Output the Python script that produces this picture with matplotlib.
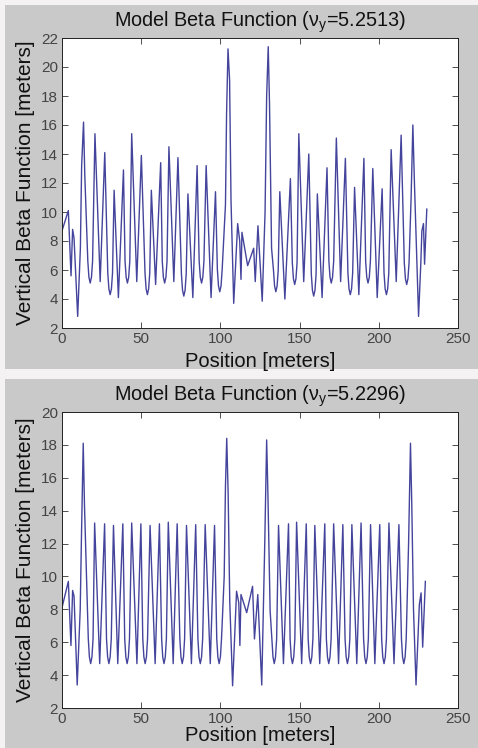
import matplotlib
matplotlib.use("Agg")
import matplotlib.pyplot as plt
from matplotlib.patches import Rectangle

plt.rcParams['font.family'] = ['Liberation Sans', 'DejaVu Sans']
plt.rcParams['mathtext.fontset'] = 'custom'
plt.rcParams['mathtext.rm'] = 'Liberation Sans'
plt.rcParams['mathtext.it'] = 'Liberation Sans'

# vertical beta function, tune 5.2513 (position [m], beta [m])
s_top = [0.0, 4.0, 5.7, 6.7, 7.6, 9.9, 11.6, 12.4, 13.6, 14.4,
         16.3, 17.0, 17.8, 18.6, 19.3, 20.8,
         24.1, 27.0,
         28.9, 29.6, 30.4, 31.2, 31.9, 32.9,
         35.6, 38.8,
         39.8, 40.5, 41.3, 42.1, 42.8, 44.0,
         47.2, 50.1,
         52.4, 53.1, 53.9, 54.7, 55.4, 56.4,
         59.1, 62.3,
         63.3, 64.0, 64.8, 65.6, 66.3, 67.5,
         70.6, 73.2,
         75.4, 76.1, 76.9, 77.7, 78.4, 79.5,
         82.6, 85.3,
         86.6, 87.3, 88.1, 88.9, 89.6, 91.0,
         94.1, 96.9,
         98.1, 98.8, 99.6, 100.4, 101.1,
         103.2, 103.9, 104.8, 105.8, 106.7, 108.4,
         110.9, 112.2, 113.0, 113.6, 117.2, 121.0, 122.0, 123.7, 126.4,
         128.2, 129.2, 130.2, 131.0, 132.3,
         133.5, 134.2, 135.0, 135.8, 136.5, 137.5,
         140.7, 144.2,
         145.4, 146.1, 146.9, 147.7, 148.4, 149.5,
         152.6, 155.8,
         157.4, 158.1, 158.9, 159.7, 160.4, 161.2,
         164.2, 167.3,
         168.5, 169.2, 170.0, 170.8, 171.5, 173.2,
         175.9, 178.9,
         180.5, 181.2, 182.0, 182.8, 183.5, 184.7,
         187.4, 190.6,
         191.7, 192.4, 193.2, 194.0, 194.7, 196.2,
         199.0, 202.1,
         203.3, 204.0, 204.8, 205.6, 206.3, 207.8,
         211.0, 214.1,
         216.1, 216.8, 217.6, 218.4, 219.1,
         220.4, 221.5, 222.5, 225.1, 226.5, 227.2, 228.2, 228.9, 230.3]
beta_top = [8.7, 10.1, 5.6, 8.8, 8.2, 2.8, 7.5, 13.2, 16.2, 12.5,
            6.6, 5.5, 5.1, 5.5, 6.6, 15.4,
            5.2, 14.1,
            5.8, 4.7, 4.3, 4.7, 5.8, 11.5,
            4.1, 12.9,
            6.6, 5.5, 5.1, 5.5, 6.6, 15.4,
            5.2, 13.9,
            5.8, 4.7, 4.3, 4.7, 5.8, 11.5,
            5.0, 13.4,
            6.6, 5.5, 5.1, 5.5, 6.6, 14.5,
            5.2, 13.75,
            5.7, 4.6, 4.2, 4.6, 5.7, 11.25,
            4.1, 13.2,
            6.6, 5.5, 5.1, 5.5, 6.6, 13.2,
            4.1, 11.4,
            6.0, 4.9, 4.5, 4.9, 6.0,
            10.5, 16.8, 21.25, 19.1, 10.8, 3.7,
            9.2, 8.0, 5.35, 8.6, 6.3, 7.5, 5.2, 9.05, 3.85,
            10.0, 18.0, 21.4, 17.5, 7.5,
            6.0, 4.9, 4.5, 4.9, 6.0, 11.4,
            4.0, 12.3,
            6.5, 5.4, 5.0, 5.4, 6.5, 15.4,
            5.2, 14.0,
            5.7, 4.6, 4.2, 4.6, 5.7, 11.25,
            4.1, 13.05,
            6.6, 5.5, 5.1, 5.5, 6.6, 15.1,
            5.2, 13.7,
            5.8, 4.7, 4.3, 4.7, 5.8, 11.7,
            4.3, 13.7,
            6.6, 5.5, 5.1, 5.5, 6.6, 13.0,
            4.1, 11.6,
            5.8, 4.7, 4.3, 4.7, 5.8, 14.3,
            5.2, 15.3,
            6.5, 5.4, 5.0, 5.4, 6.5,
            11.0, 16.0, 12.0, 2.8, 6.4, 8.7, 9.2, 6.4, 10.2]

# vertical beta function, tune 5.2296
s_bot = [0.0, 4.0, 5.65, 6.7, 7.6, 9.6, 11.5, 12.3, 13.4, 14.2,
         16.6, 17.3, 18.1, 18.9, 19.6, 20.6,
         23.8, 26.9,
         28.1, 28.8, 29.6, 30.4, 31.1, 32.5,
         35.2, 38.4,
         39.6, 40.3, 41.1, 41.9, 42.6, 44.0,
         47.3, 49.8,
         51.0, 51.7, 52.5, 53.3, 54.0, 55.6,
         58.8, 61.5,
         62.9, 63.6, 64.4, 65.2, 65.9, 67.1,
         70.2, 72.7,
         74.4, 75.1, 75.9, 76.7, 77.4, 78.6,
         81.7, 84.4,
         85.8, 86.5, 87.3, 88.1, 88.8, 90.4,
         93.6, 96.3,
         97.7, 98.4, 99.2, 100.0, 100.7,
         102.4, 103.2, 104.0, 104.9, 105.9, 107.7,
         110.2, 111.6, 112.3, 113.0, 116.6, 120.3, 121.5, 123.6, 126.1,
         128.0, 129.2, 130.0, 131.4,
         132.5, 133.2, 134.0, 134.8, 135.5, 136.7,
         139.8, 143.0,
         144.0, 144.7, 145.5, 146.3, 147.0, 148.1,
         151.3, 154.2,
         155.4, 156.1, 156.9, 157.7, 158.4, 159.6,
         162.7, 165.9,
         166.9, 167.6, 168.4, 169.2, 169.9, 171.5,
         174.6, 177.3,
         178.7, 179.4, 180.2, 181.0, 181.7, 183.0,
         186.1, 188.8,
         190.4, 191.1, 191.9, 192.7, 193.4, 194.8,
         197.5, 200.6,
         201.8, 202.5, 203.3, 204.1, 204.8, 206.4,
         209.6, 212.7,
         214.3, 215.0, 215.8, 216.6, 217.3,
         218.8, 220.0, 220.8, 221.9, 223.5, 225.6, 226.7, 227.7, 229.4]
beta_bot = [8.1, 9.7, 5.8, 9.15, 8.8, 3.4, 8.0, 12.5, 18.1, 14.3,
            6.2, 5.1, 4.7, 5.1, 6.2, 13.25,
            4.7, 13.2,
            6.2, 5.1, 4.7, 5.1, 6.2, 13.1,
            4.7, 13.2,
            6.2, 5.1, 4.7, 5.1, 6.2, 13.25,
            4.7, 13.2,
            6.2, 5.1, 4.7, 5.1, 6.2, 13.1,
            4.7, 13.2,
            6.2, 5.1, 4.7, 5.1, 6.2, 13.3,
            4.7, 13.2,
            6.2, 5.1, 4.7, 5.1, 6.2, 13.1,
            4.7, 13.15,
            6.2, 5.1, 4.7, 5.1, 6.2, 13.15,
            4.7, 13.1,
            6.2, 5.1, 4.7, 5.1, 6.2,
            10.0, 15.5, 18.4, 15.0, 8.5, 3.35,
            9.1, 8.4, 5.8, 8.9, 7.8, 9.4, 6.2, 8.9, 3.4,
            12.0, 18.3, 15.0, 7.9,
            6.2, 5.1, 4.7, 5.1, 6.2, 13.1,
            4.7, 13.2,
            6.2, 5.1, 4.7, 5.1, 6.2, 13.3,
            4.7, 13.2,
            6.2, 5.1, 4.7, 5.1, 6.2, 13.1,
            4.7, 13.2,
            6.2, 5.1, 4.7, 5.1, 6.2, 13.2,
            4.7, 13.15,
            6.2, 5.1, 4.7, 5.1, 6.2, 13.15,
            4.7, 13.25,
            6.2, 5.1, 4.7, 5.1, 6.2, 13.15,
            4.7, 13.15,
            6.2, 5.1, 4.7, 5.1, 6.2, 13.25,
            4.7, 13.15,
            6.2, 5.1, 4.7, 5.1, 6.2,
            12.0, 18.1, 14.5, 8.0, 3.4, 8.3, 9.0, 5.7, 9.7]

assert len(s_top) == len(beta_top) and len(s_bot) == len(beta_bot)

tunes = ['5.2513', '5.2296']
ylims = [(2, 22), (2, 20)]
xticks = [0, 50, 100, 150, 200, 250]

W, H = 478, 748
fig = plt.figure(figsize=(W / 100, H / 100), dpi=100)
fig.patch.set_facecolor('#f4f2f2')

# gray window backgrounds of the two plots
for y0, y1 in [(5, 369), (379, 748)]:
    fig.patches.append(Rectangle((5 / W, 1 - y1 / H), 1 - 5 / W, (y1 - y0) / H,
                                 transform=fig.transFigure, facecolor='#c9c9c9',
                                 edgecolor='none', zorder=-10))

ax_top = fig.add_axes([62 / W, 1 - 328 / H, 396 / W, 290 / H])
ax_bot = fig.add_axes([62 / W, 1 - 708 / H, 396 / W, 296 / H])

for ax, s, beta, tune, ylim, lpad in zip([ax_top, ax_bot], [s_top, s_bot],
                                         [beta_top, beta_bot], tunes, ylims,
                                         [4, 0]):
    ax.plot(s, beta, color='#44449c', lw=1.0)
    ax.set_xlim(0, 250)
    ax.set_ylim(*ylim)
    ax.set_xticks(xticks)
    ax.set_yticks(range(ylim[0], ylim[1] + 1, 2))
    ax.tick_params(direction='in', length=4, width=0.6, top=True, right=True,
                   labelsize=11, colors='#333333', labelcolor='#444444', pad=3)
    for sp in ax.spines.values():
        sp.set_linewidth(0.7)
        sp.set_color('#222222')
    ax.set_facecolor('white')
    ax.set_title('Model Beta Function ($\\mathregular{\\nu_y}$=' + tune + ')',
                 fontsize=14.3, pad=8, color='#111111')
    ax.set_xlabel('Position [meters]', fontsize=14.5, labelpad=lpad,
                  color='#111111')
    ax.set_ylabel('Vertical Beta Function [meters]', fontsize=15, labelpad=4,
                  color='#111111')

fig.savefig('out.png', dpi=100, facecolor=fig.get_facecolor())
